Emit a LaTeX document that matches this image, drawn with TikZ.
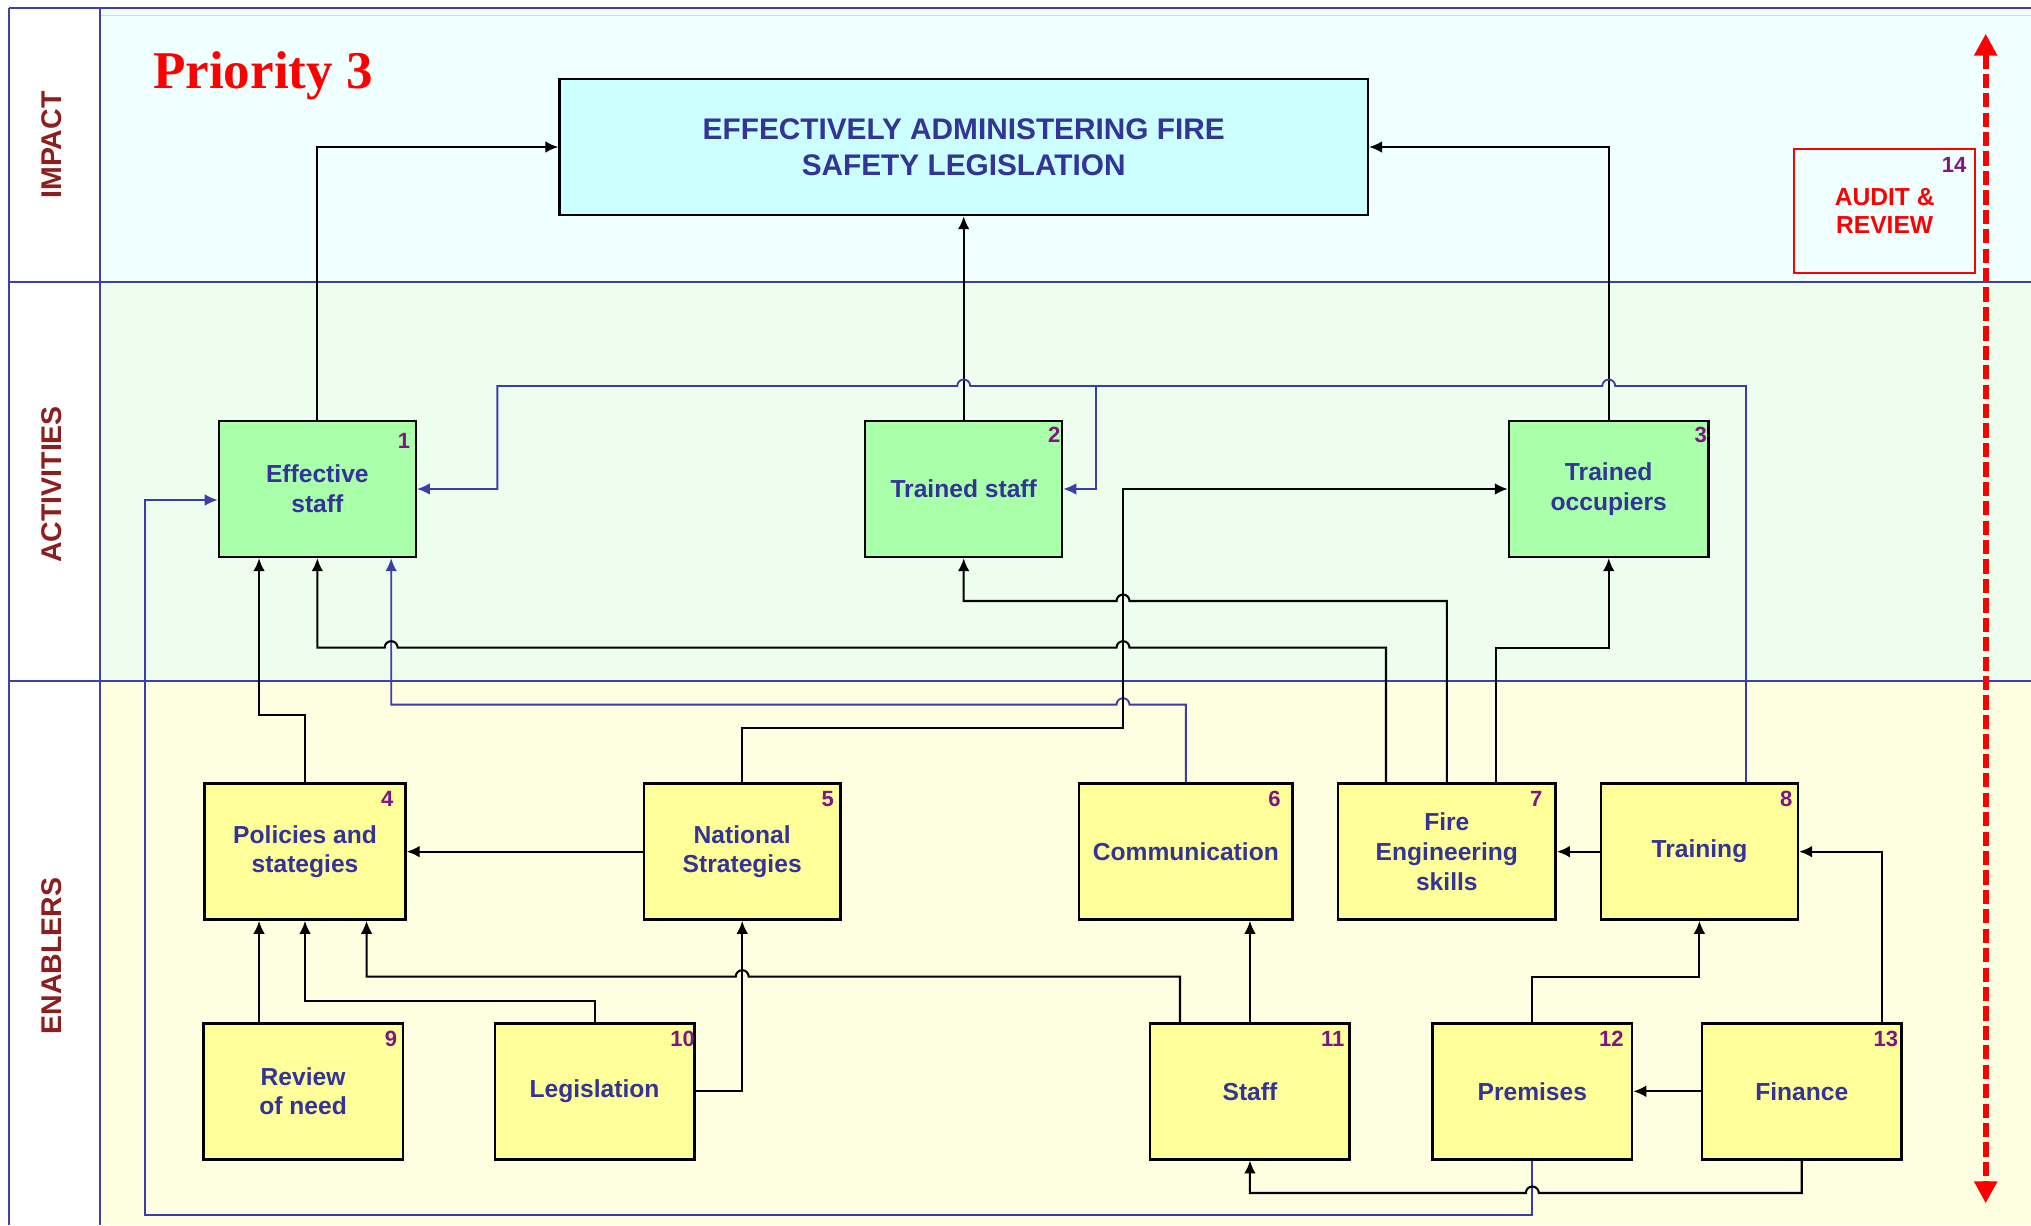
\documentclass[tikz,border=0pt]{standalone}
\usepackage{fontspec}
\setmainfont{Liberation Sans}
\newfontfamily\titleserif{Liberation Serif}
\usetikzlibrary{arrows.meta}

\definecolor{impactbg}{RGB}{240,255,255}
\definecolor{activbg}{RGB}{238,254,238}
\definecolor{enablbg}{RGB}{254,254,224}
\definecolor{lanerule}{RGB}{64,64,168}
\definecolor{lanetext}{RGB}{140,30,30}
\definecolor{goalfill}{RGB}{204,255,255}
\definecolor{actfill}{RGB}{170,255,170}
\definecolor{enfill}{RGB}{255,255,153}
\definecolor{boxtext}{RGB}{51,51,153}
\definecolor{numtext}{RGB}{128,20,128}
\definecolor{flowblue}{RGB}{60,60,170}
\definecolor{toprule}{RGB}{255,200,200}

\begin{document}
\begin{tikzpicture}[x=1pt,y=-1pt,
  box/.style={draw=black, line width=1.9pt, minimum height=105pt, inner sep=0pt,
    align=center, text=boxtext, font=\bfseries\fontsize{19}{23}\selectfont},
  actbox/.style={box, fill=actfill},
  enbox/.style={box, fill=enfill},
  num/.style={text=numtext, inner sep=0pt, font=\bfseries\fontsize{17}{17}\selectfont},
  lanelabel/.style={rotate=90, text=lanetext, font=\bfseries\fontsize{22}{22}\selectfont},
  conn/.style={draw=black, line width=1.6pt, -{Latex[length=10pt,width=9pt]}},
  bconn/.style={draw=flowblue, line width=1.4pt, -{Latex[length=10pt,width=9pt]}},
  lane/.style={draw=lanerule, line width=1.6pt},
  hop/.style={},
]
\useasboundingbox (0,0) rectangle (1568,946);

% swim lanes
\fill[white] (0,0) rectangle (1568,946);
\fill[impactbg] (77,6) rectangle (1568,218);
\fill[activbg] (77,218) rectangle (1568,526);
\fill[enablbg] (77,526) rectangle (1568,946);
\draw[toprule, line width=0.8pt] (77,12) -- (1568,12);
\draw[lane] (7,6) -- (1568,6);
\draw[lane] (7,218) -- (1568,218);
\draw[lane] (7,526) -- (1568,526);
\draw[lane] (7,6) -- (7,946);
\draw[lane] (77,6) -- (77,946);

\node[lanelabel] (labImpact) at (40,112) {IMPACT};
\node[lanelabel] (labActiv) at (40,374) {ACTIVITIES};
\node[lanelabel] (labEnabl) at (40,738) {ENABLERS};

\node[anchor=base west, text=red, inner sep=0pt,
  font=\titleserif\bfseries\fontsize{41}{41}\selectfont] (title) at (118,68) {Priority 3};

% outcome and audit
\node[box, fill=goalfill, minimum width=624pt,
  font=\bfseries\fontsize{23}{28}\selectfont] (goal) at (744,113.5)
  {EFFECTIVELY ADMINISTERING FIRE\\SAFETY LEGISLATION};
\node[draw=red, line width=1.4pt, minimum width=140pt, minimum height=96pt, inner sep=0pt,
  text=red, align=center, font=\bfseries\fontsize{19}{22}\selectfont] (audit) at (1455,163)
  {AUDIT \&\\REVIEW};
\node[num] (k14) at ([xshift=-17pt,yshift=-13pt]audit.north east) {14};

\coordinate (auditTop) at (1533,26);
\coordinate (auditBot) at (1533,929);
\draw[red, line width=4.5pt, dash pattern=on 11pt off 4pt,
  {Triangle[length=17pt,width=17pt]}-{Triangle[length=17pt,width=17pt]}] (auditTop) -- (auditBot);

% activities
\node[actbox, minimum width=152pt] (n1) at (245,377.5) {Effective\\staff};
\node[actbox, minimum width=152pt] (n2) at (744,377.5) {Trained staff};
\node[actbox, minimum width=154pt] (n3) at (1242,377.5) {Trained\\occupiers};

% enablers
\node[enbox, minimum width=155pt] (n4) at (235.5,657.5) {Policies and\\stategies};
\node[enbox, minimum width=152pt] (n5) at (573,657.5) {National\\Strategies};
\node[enbox, minimum width=165pt] (n6) at (915.5,657.5) {Communication};
\node[enbox, minimum width=168pt] (n7) at (1117,657.5) {Fire\\Engineering\\skills};
\node[enbox, minimum width=152pt] (n8) at (1312,657.5) {Training};
\node[enbox, minimum width=154pt] (n9) at (234,842.5) {Review\\of need};
\node[enbox, minimum width=154pt] (n10) at (459,842.5) {Legislation};
\node[enbox, minimum width=154pt] (n11) at (965,842.5) {Staff};
\node[enbox, minimum width=154pt] (n12) at (1183,842.5) {Premises};
\node[enbox, minimum width=154pt] (n13) at (1391,842.5) {Finance};

% box numbers
\node[num] (k1) at ([xshift=-10pt,yshift=-16pt]n1.north east) {1};
\node[num] (k2) at ([xshift=-7pt,yshift=-12pt]n2.north east) {2};
\node[num] (k3) at ([xshift=-7pt,yshift=-12pt]n3.north east) {3};
\node[num] (k4) at ([xshift=-15pt,yshift=-13pt]n4.north east) {4};
\node[num] (k5) at ([xshift=-11pt,yshift=-13pt]n5.north east) {5};
\node[num] (k6) at ([xshift=-15pt,yshift=-13pt]n6.north east) {6};
\node[num] (k7) at ([xshift=-16pt,yshift=-13pt]n7.north east) {7};
\node[num] (k8) at ([xshift=-10pt,yshift=-13pt]n8.north east) {8};
\node[num] (k9) at ([xshift=-10pt,yshift=-13pt]n9.north east) {9};
\node[num] (k10) at ([xshift=-10pt,yshift=-13pt]n10.north east) {10};
\node[num] (k11) at ([xshift=-14pt,yshift=-13pt]n11.north east) {11};
\node[num] (k12) at ([xshift=-17pt,yshift=-13pt]n12.north east) {12};
\node[num] (k13) at ([xshift=-13pt,yshift=-13pt]n13.north east) {13};

% activities to outcome
\draw[conn] (n1.north) |- (goal.west);
\draw[conn] (n2.north) -- (goal.south);
\draw[conn] (n3.north) |- (goal.east);

% blue feedback lines (small hops where they cross a black line)
\draw[bconn] ([xshift=36pt]n8.north) -- (1348,298)
  -- (1247,298) arc[start angle=0,end angle=180,radius=5pt]
  -- (749,298) arc[start angle=0,end angle=180,radius=5pt]
  -- (384,298) -- (384,377.5) -- (n1.east);
\coordinate (split) at (846,298);
\draw[bconn] (split) |- (n2.east);
\draw[bconn] (n12.south) -- (1183,938) -- (112,938) -- (112,386) -- ([yshift=-8.5pt]n1.west);
\draw[bconn] (n6.north) -- (915.5,544)
  -- (872,544) arc[start angle=0,end angle=180,radius=5pt]
  -- (302,544) -- ([xshift=57pt]n1.south);

% enablers to activities
\draw[conn] (n4.north) -- (235.5,552) -- (200,552) -- ([xshift=-45pt]n1.south);
\draw[conn] ([xshift=-47pt]n7.north) -- (1070,500)
  -- (872,500) arc[start angle=0,end angle=180,radius=5pt]
  -- (307,500) arc[start angle=0,end angle=180,radius=5pt]
  -- (245,500) -- (n1.south);
\draw[conn] (n7.north) -- (1117,464)
  -- (872,464) arc[start angle=0,end angle=180,radius=5pt]
  -- (744,464) -- (n2.south);
\draw[conn] ([xshift=38pt]n7.north) -- (1155,500) -| (n3.south);
\draw[conn] (n5.north) -- (573,562) -- (867,562) -- (867,377.5) -- (n3.west);

% among enablers
\draw[conn] (n5.west) -- (n4.east);
\draw[conn] ([xshift=-34pt]n9.north) -- ([xshift=-35.5pt]n4.south);
\draw[conn] (n10.north) -- (459,773) -- (235.5,773) -- (n4.south);
\draw[conn] ([xshift=-54pt]n11.north) -- (911,754)
  -- (578,754) arc[start angle=0,end angle=180,radius=5pt]
  -- (283,754) -- ([xshift=47.5pt]n4.south);
\draw[conn] (n10.east) -| (n5.south);
\draw[conn] (n11.north) -- ([xshift=49.5pt]n6.south);
\draw[conn] (n8.west) -- (n7.east);
\draw[conn] (n12.north) -- (1183,754) -| (n8.south);
\draw[conn] ([xshift=62pt]n13.north) |- (n8.east);
\draw[conn] (n13.west) -- (n12.east);
\draw[conn] (n13.south) -- (1391,921)
  -- (1188,921) arc[start angle=0,end angle=180,radius=5pt]
  -- (965,921) -- (n11.south);
\end{tikzpicture}
\end{document}
